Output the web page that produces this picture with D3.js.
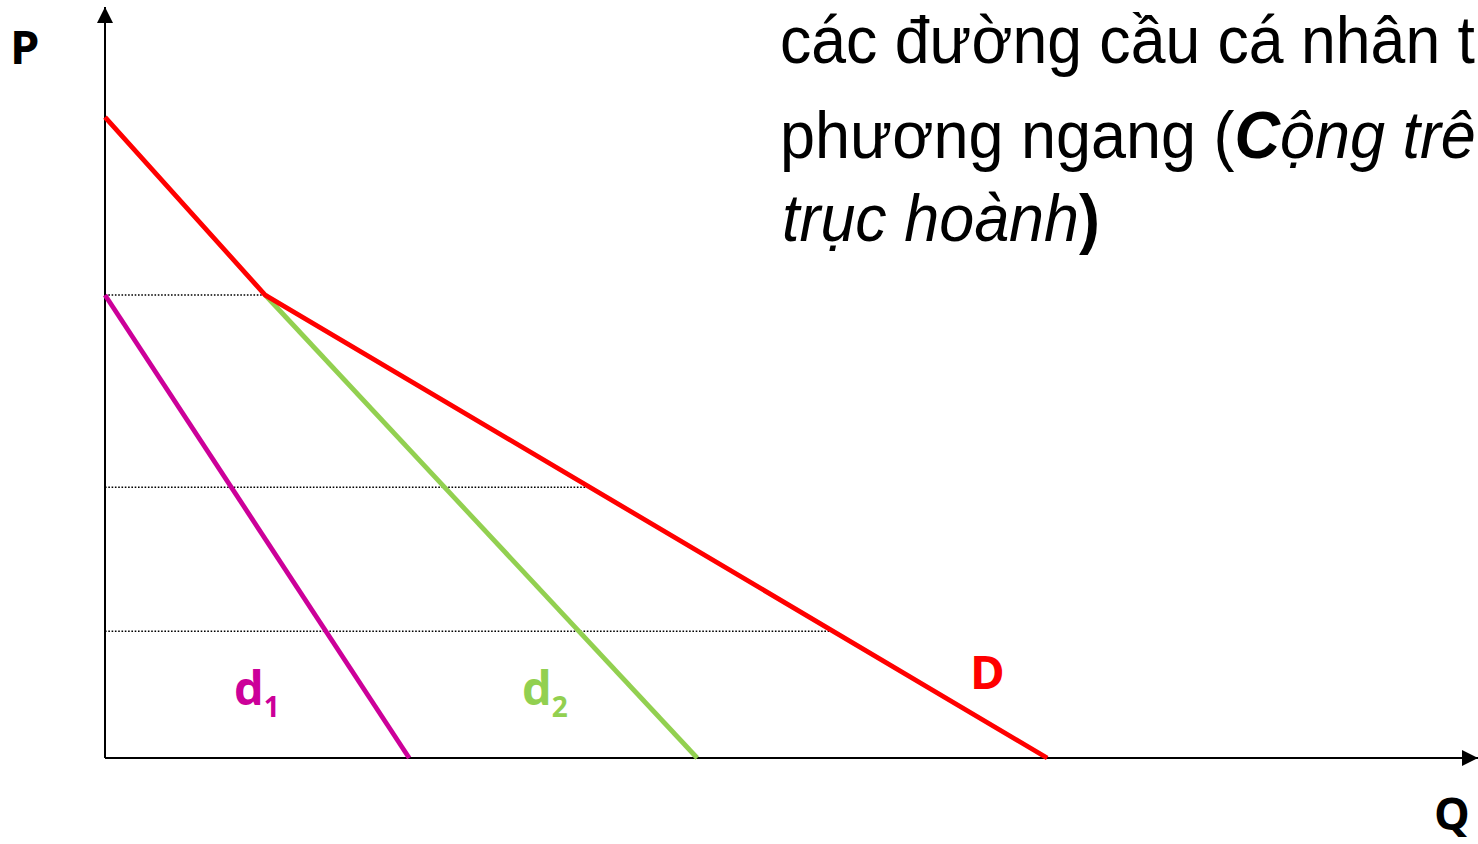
<!DOCTYPE html>
<html>
<head>
<meta charset="utf-8">
<script src="https://cdn.jsdelivr.net/npm/d3@7"></script>
<style>
  html, body { margin: 0; padding: 0; background: #fff; }
  svg { display: block; }
</style>
</head>
<body>
<svg id="chart" width="1478" height="844"></svg>
<script>
// Individual demand curves (q, p) and the market demand obtained by horizontal summation
const demandD  = [{q: 0, p: 13.84}, {q: 3.46, p: 10}, {q: 20.35, p: 0}];
const demand1  = [{q: 0, p: 10}, {q: 6.57, p: 0}];
const demand2  = [{q: 3.46, p: 10}, {q: 12.79, p: 0}];
// Price levels marked with dotted guides, each running out to the market curve D
const priceLevels = [10, 5.85, 2.74];
// Heading lines (regular / italic / bold runs)
const headingLines = [
  [{t: "các đường cầu cá nhân t"}],
  [{t: "phương ngang ("}, {t: "C", italic: true, bold: true}, {t: "ộng trê", italic: true}],
  [{t: "trục hoành", italic: true}, {t: ")", bold: true}]
];

const svg = d3.select("#chart");
const unit = 46.3;
const x0 = 105, y0 = 758;
const x = d3.scaleLinear().domain([0, 10]).range([x0, x0 + 10 * unit]);
const y = d3.scaleLinear().domain([0, 10]).range([y0, y0 - 10 * unit]);
const qMax = x.invert(1478), pMax = y.invert(7);

// quantity on D for a given price (linear interpolation along the kinked curve)
function qOnD(p) {
  for (let i = 0; i < demandD.length - 1; i++) {
    const a = demandD[i], b = demandD[i + 1];
    if (p <= a.p && p >= b.p) return a.q + (b.q - a.q) * (a.p - p) / (a.p - b.p);
  }
  return 0;
}

// dotted price guides
svg.append("g").selectAll("line").data(priceLevels).join("line")
  .attr("x1", x(0)).attr("x2", d => x(qOnD(d)))
  .attr("y1", d => y(d)).attr("y2", d => y(d))
  .attr("stroke", "#000").attr("stroke-width", 1.5)
  .attr("stroke-dasharray", "1.6,1.7");

// axes with arrow heads
const defs = svg.append("defs");
defs.append("marker").attr("id", "arrow")
  .attr("viewBox", "0 0 16 16").attr("refX", 16).attr("refY", 8)
  .attr("markerWidth", 16).attr("markerHeight", 16)
  .attr("markerUnits", "userSpaceOnUse").attr("orient", "auto")
  .append("path").attr("d", "M0,0 L16,8 L0,16 Z").attr("fill", "#000");

svg.append("line")
  .attr("x1", x(0)).attr("y1", y(0)).attr("x2", x(0)).attr("y2", y(pMax))
  .attr("stroke", "#000").attr("stroke-width", 2).attr("marker-end", "url(#arrow)");
svg.append("line")
  .attr("x1", x(0)).attr("y1", y(0)).attr("x2", x(qMax)).attr("y2", y(0))
  .attr("stroke", "#000").attr("stroke-width", 2).attr("marker-end", "url(#arrow)");

// demand curves
const line = d3.line().x(d => x(d.q)).y(d => y(d.p));
const curves = [
  {data: demand1, color: "#CC0099"},
  {data: demand2, color: "#92D050"},
  {data: demandD, color: "#FF0000"}
];
svg.append("g").selectAll("path").data(curves).join("path")
  .attr("d", d => line(d.data))
  .attr("fill", "none").attr("stroke", d => d.color)
  .attr("stroke-width", 4.8).attr("stroke-linejoin", "miter");

// curve labels
const labelFont = "'Open Sans', 'DejaVu Sans', sans-serif";
function curveLabel(px, py, main, sub, color) {
  const t = svg.append("text").attr("x", px).attr("y", py)
    .attr("font-family", labelFont).attr("font-weight", 700)
    .attr("font-size", 47).attr("fill", color);
  t.append("tspan").text(main);
  if (sub) t.append("tspan").attr("font-size", 28).attr("dy", 12).text(sub);
}
curveLabel(234, 705, "d", "1", "#CC0099");
curveLabel(522, 705, "d", "2", "#92D050");
curveLabel(970, 689, "D", null, "#FF0000");

// axis titles
svg.append("text").attr("x", 10).attr("y", 64)
  .attr("font-family", labelFont).attr("font-weight", 700)
  .attr("font-size", 47).attr("fill", "#000").text("P");
svg.append("text").attr("x", 1434).attr("y", 830)
  .attr("font-family", labelFont).attr("font-weight", 700)
  .attr("font-size", 45).attr("fill", "#000").text("Q");

// heading, set in a condensed sans; each line squeezed horizontally to its width
const lineLayout = [
  {left: 780, width: 695, baseline: 63},
  {left: 780, width: 696, baseline: 158},
  {left: 782, width: 318, baseline: 241}
];
const head = svg.append("g").attr("font-family", "'Liberation Sans', Arial, sans-serif")
  .attr("font-size", 66).attr("fill", "#000");
headingLines.forEach((runs, i) => {
  const L = lineLayout[i];
  const g = head.append("g");
  const t = g.append("text").attr("x", 0).attr("y", L.baseline);
  runs.forEach(r => {
    t.append("tspan").text(r.t)
      .attr("font-style", r.italic ? "italic" : "normal")
      .attr("font-weight", r.bold ? 700 : 400);
  });
  const w = t.node().getComputedTextLength();
  g.attr("transform", `translate(${L.left},0) scale(${L.width / w},1)`);
});
</script>
</body>
</html>
